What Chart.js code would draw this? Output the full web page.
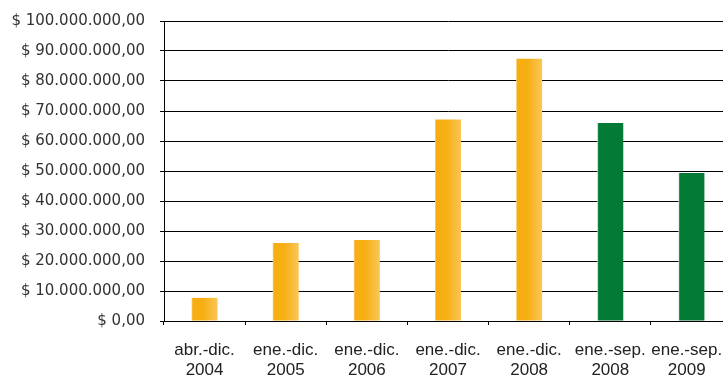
<!DOCTYPE html>
<html>
<head>
<meta charset="utf-8">
<script src="https://cdn.jsdelivr.net/npm/chart.js@4/dist/chart.umd.min.js"></script>
<style>
  html, body { margin: 0; padding: 0; background: #fff; overflow: hidden; }
  /* The plot runs a little past the right edge of the window, so the canvas is wider than the view */
  #wrap { width: 733px; height: 377px; overflow: hidden; }
  #c { display: block; }
</style>
</head>
<body>
<div id="wrap"><canvas id="c" width="733" height="377"></canvas></div>
<script>
// Periods shown along the x axis (two-line labels)
const periods = [
  ["abr.-dic.", "2004"],
  ["ene.-dic.", "2005"],
  ["ene.-dic.", "2006"],
  ["ene.-dic.", "2007"],
  ["ene.-dic.", "2008"],
  ["ene.-sep.", "2008"],
  ["ene.-sep.", "2009"]
];
// Amount per period, in pesos
const amounts = [7700000, 26000000, 27000000, 67200000, 87400000, 66000000, 49300000];
// Whole-year totals are orange; the Jan–Sep comparison periods are green
const wholeYear = [true, true, true, true, true, false, false];

const yMin = 0, yMax = 100000000, yStep = 10000000;

function pesos(v) {
  const intPart = Math.round(v).toString().replace(/\B(?=(\d{3})+(?!\d))/g, ".");
  return "$ " + intPart + ",00";
}

const BAR_PCT = 0.32;

// Horizontal shading across each bar (pale edge, solid body, lighter right side)
function barFill(ctx) {
  const chart = ctx.chart;
  const i = ctx.dataIndex;
  const orange = wholeYear[i];
  const solid = orange ? "#F6AF14" : "#037A35";
  const xs = chart.scales && chart.scales.x;
  if (!chart.chartArea || !xs || typeof xs.getPixelForValue !== "function") return solid;
  const cx = xs.getPixelForValue(i);
  const w = (xs.width / periods.length) * BAR_PCT;
  if (!isFinite(cx) || !isFinite(w)) return solid;
  const g = chart.ctx.createLinearGradient(cx - w / 2, 0, cx + w / 2, 0);
  if (orange) {
    g.addColorStop(0, "#F9D48A");
    g.addColorStop(0.05, "#F6AE12");
    g.addColorStop(0.45, "#F6AF14");
    g.addColorStop(1, "#FAC658");
  } else {
    g.addColorStop(0, "#D8E6DC");
    g.addColorStop(0.05, "#037A35");
    g.addColorStop(1, "#037A35");
  }
  return g;
}

new Chart(document.getElementById("c"), {
  type: "bar",
  data: {
    labels: periods,
    datasets: [{
      data: amounts,
      backgroundColor: barFill,
      borderWidth: 0,
      barPercentage: BAR_PCT,
      categoryPercentage: 1
    }]
  },
  options: {
    responsive: false,
    animation: false,
    devicePixelRatio: 1,
    layout: { padding: { top: 21, right: 1, left: 0, bottom: 0 } },
    plugins: { legend: { display: false }, tooltip: { enabled: false } },
    scales: {
      x: {
        offset: true,
        grid: {
          offset: true,
          drawOnChartArea: false,
          drawTicks: true,
          tickLength: 4,
          color: "#000",
          lineWidth: 1
        },
        border: { display: true, color: "#000", width: 1 },
        ticks: {
          color: "#222",
          font: { family: "Liberation Sans", size: 17, lineHeight: 1.2 },
          padding: 15,
          maxRotation: 0,
          autoSkip: false,
          // nudge the last label left so it stays inside the window
          callback(value, index) {
            const lines = this.getLabelForValue(value);
            return index === periods.length - 1 ? lines.map(s => s + "  ") : lines;
          }
        },
        afterFit(scale) { scale.height = 56; scale.paddingLeft = 0; scale.paddingRight = 0; }
      },
      y: {
        min: yMin,
        max: yMax,
        grid: { color: "#000", lineWidth: 1, drawTicks: true, tickLength: 4 },
        border: { display: true, color: "#000", width: 1 },
        ticks: {
          stepSize: yStep,
          color: "#333",
          font: { family: "DejaVu Sans", size: 15 },
          padding: 15,
          callback: (v) => pesos(v)
        },
        afterFit(scale) { scale.width = 164; scale.paddingTop = 0; scale.paddingBottom = 0; }
      }
    }
  }
});
</script>
</body>
</html>
